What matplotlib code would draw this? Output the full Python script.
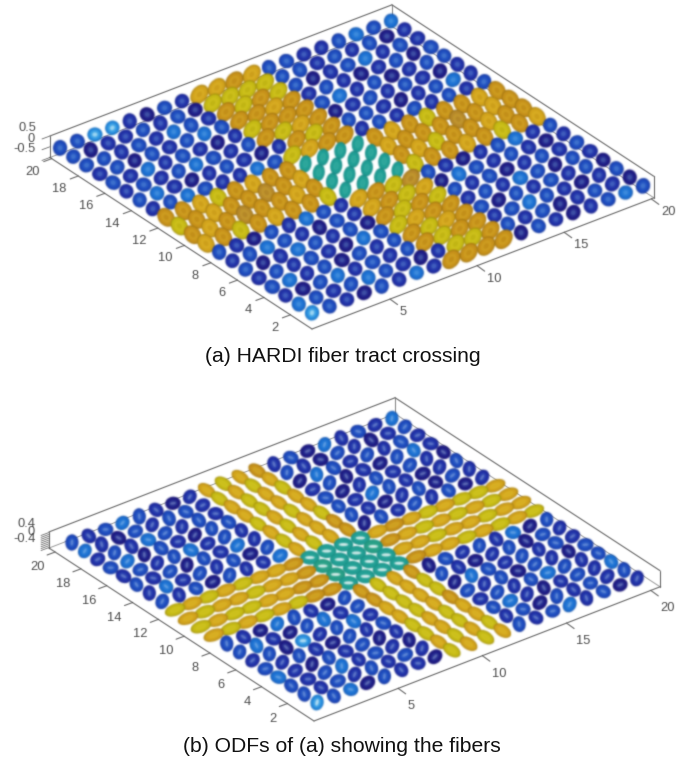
import numpy as np
import matplotlib
matplotlib.use("Agg")
import matplotlib.pyplot as plt
from matplotlib.collections import EllipseCollection
from matplotlib.colors import to_rgb

# ---- data: estimated glyph class per voxel, rows y=20..1, columns x=1..20
grid_a = [
    "cceebacbhhghccbbcdcd",
    "cabbcbcayyyyccbcbcab",
    "ccbcbdcbgygycabcdbcb",
    "bcacbcdcgghgbcbabcac",
    "cbdbcbabygggcdbcabcc",
    "bcbcdcbcgyhgabcbcbab",
    "cdbabcbabgygccbabcdb",
    "bcdcbbdcyhggbcbcbcbc",
    "GGHYGHGGttttGHGYGGHG",
    "YGHGGOGHttttHGGGOGHG",
    "GHGOGGHGttttGHYGGHGG",
    "HGYGHGGYttttYGGHGYGH",
    "cbacbdcbhgyocbabcdbc",
    "bcdcbacbhgyhadcbcbab",
    "cabdcbcagygycbcabcbc",
    "bcbcbadcyhggbcbdcacb",
    "cdbcacbcgyhgcacbcbca",
    "bacdbcbcgyggbcdcbabc",
    "dcbcdcbabyygcbcabcba",
    "ecbacbdbggggacbabcdc",
]
grid_b = [
    "cbcdcbabhyhgbcadbcbd",
    "dbacbccbyhyhcbacbabc",
    "bcbdcbcbhyhyadcbcbcb",
    "cdacbacchyhhbcabacdb",
    "bcbcdbcbyhyhcabcbcba",
    "cbcacbdbhyhycbdcbabc",
    "bdbcbcacyhhgcbabcacb",
    "cbcacbbdhyhgacbcbcab",
    "YHYHYHHGttttHGHYHYYH",
    "HYHHYHHGuttuGHYHYHYH",
    "YHYYHHGGutttHHYHHYHH",
    "HYHYHYGGttttGHHYHYHY",
    "cbadcbacgyhgacbcbdac",
    "cdbacdbcgyhycbabcacb",
    "bcaebcdbhyhyadcbcbcb",
    "cbcbacbchyhgcbcacbac",
    "dbacbcabyhyhbcbcdcbc",
    "cbcdbcbayhyhcdbabcbd",
    "cbcbcbcbhyhybcacbcbc",
    "ecdacbbayhyhcbcdbcab",
]
x_ticks = [5, 10, 15, 20]
y_ticks = [2, 4, 6, 8, 10, 12, 14, 16, 18, 20]
z_labels_a = [-0.5, 0, 0.5]
z_labels_b = [-0.4, 0, 0.4]
z_ticks_b = [-0.4, -0.3, -0.2, -0.1, 0, 0.1, 0.2, 0.3, 0.4]
caption_a = "(a) HARDI fiber tract crossing"
caption_b = "(b) ODFs of (a) showing the fibers"

# ---- styling
plt.rcParams["font.family"] = ["Liberation Sans", "DejaVu Sans"]
BASE = {"a": "#1d1a84", "b": "#1f2ea6", "c": "#1c49bd", "d": "#1a6fd2", "e": "#1a86dc",
        "g": "#c8921a", "h": "#d3a41c", "y": "#c6bb14", "o": "#b88a2a",
        "t": "#1f9f95", "u": "#259e86"}
GRAY = "#6a6a6a"


def gblur(sigma):
    r = int(3 * sigma) + 1
    k = np.exp(-0.5 * (np.arange(-r, r + 1) / sigma) ** 2)
    k /= k.sum()

    def f(buf, dpi):
        a = buf[..., 3:4]
        p = np.concatenate([buf[..., :3] * a, a], axis=2)
        p = np.pad(p, ((r, r), (r, r), (0, 0)))
        p = np.apply_along_axis(lambda m: np.convolve(m, k, mode="same"), 0, p)
        p = np.apply_along_axis(lambda m: np.convolve(m, k, mode="same"), 1, p)
        al = p[..., 3:4]
        rgb = np.where(al > 1e-4, p[..., :3] / np.maximum(al, 1e-4), 0)
        return np.clip(np.concatenate([rgb, al], axis=2), 0, 1), -r, -r
    return f


def mix(c, t, amt):
    c = np.array(to_rgb(c))
    return tuple(c + (np.array(to_rgb(t)) - c) * amt)


fig = plt.figure(figsize=(6.94, 7.64), dpi=100)
ax = fig.add_axes([0, 0, 1, 1])
ax.set_xlim(0, 694)
ax.set_ylim(764, 0)
ax.axis("off")


def panel(grid, org, xs, ys, zpx, xl, yl, zl, zglyph, ztks, zlabs, shapes, xlab_off, ylab_off, zlab_x, levels):
    def P(x, y, z):
        return (org[0] + (x - xl[0]) * xs[0] + (y - yl[0]) * ys[0],
                org[1] + (x - xl[0]) * xs[1] + (y - yl[0]) * ys[1] - (z - zl[0]) * zpx)

    blur = gblur(0.55)

    def line(p, q, c=GRAY, lw=0.8, z=1):
        l, = ax.plot([p[0], q[0]], [p[1], q[1]], color=c, lw=lw, zorder=z, solid_capstyle="round")
        l.set_agg_filter(blur)

    X0, X1, Y0, Y1, Z0, Z1 = xl[0], xl[1], yl[0], yl[1], zl[0], zl[1]
    line(P(X0, Y1, Z0), P(X1, Y1, Z0), "#9a9a9a", 0.7)
    line(P(X1, Y0, Z0), P(X1, Y1, Z0), "#9a9a9a", 0.7)
    line(P(X1, Y1, Z0), P(X1, Y1, Z1), "#8a8a8a", 0.8)
    line(P(X0, Y1, Z1), P(X1, Y1, Z1))
    line(P(X1, Y1, Z1), P(X1, Y0, Z1))
    line(P(X0, Y1, Z0), P(X0, Y1, Z1))
    line(P(X1, Y0, Z0), P(X1, Y0, Z1))
    line(P(X0, Y0, Z0), P(X1, Y0, Z0), z=5)
    line(P(X0, Y0, Z0), P(X0, Y1, Z0), z=5)

    for v in x_ticks:
        p = P(v, Y0, Z0)
        line(p, (p[0] + 7.5, p[1] + 5.5), z=5)
        t = ax.text(p[0] + xlab_off[0] + (4 if v >= 10 else 0), p[1] + xlab_off[1], str(v), ha="center", va="center",
                    fontsize=9.3, color="#4d4d4d", zorder=6)
        t.set_agg_filter(blur)
    for v in y_ticks:
        p = P(X0, v, Z0)
        line(p, (p[0] - 8, p[1] + 3), z=5)
        t = ax.text(p[0] + ylab_off[0] + (0 if v >= 10 else 3.5), p[1] + ylab_off[1], str(v), ha="center", va="center",
                    fontsize=9.3, color="#4d4d4d", zorder=6)
        t.set_agg_filter(blur)
    for v in ztks:
        p = P(X0, Y1, v)
        line(p, (p[0] - 8, p[1] + 3), lw=0.6, z=5)
    for v in zlabs:
        p = P(X0, Y1, v)
        s = "0" if v == 0 else f"{v:g}"
        t = ax.text(zlab_x - (2.5 if v < 0 else 0 if v > 0 else -4), p[1] - 8, s, ha="center", va="center",
                    fontsize=9.3, color="#4d4d4d", zorder=6)
        t.set_agg_filter(blur)

    items = []
    for r, row in enumerate(grid):
        gy = 20 - r
        for c, ch in enumerate(row):
            items.append((c + 1, gy, ch))
    items.sort(key=lambda i: P(i[0], i[1], zglyph)[1])

    off, W, H, A, FC = [], [], [], [], []
    for gx, gy, ch in items:
        low = ch.lower()
        base = BASE[low]
        if low in "abcde":
            kind = "blue"
        elif low in "tu":
            kind = "teal"
        else:
            kind = "fx" if ch.isupper() else "fy"
        a_s, b_s, ang = shapes[kind]
        if kind == "blue":
            ang = (gx * 47 + gy * 29) % 180
            a_s = a_s * (1 + 0.025 * ((gx * 3 + gy * 7) % 4))
        for sc_w, sc_h, amt, tgt in levels[kind] if low != "e" else levels["bright"]:
            off.append(P(gx, gy, zglyph))
            W.append(2 * a_s * sc_w)
            H.append(2 * b_s * sc_h)
            A.append(ang)
            FC.append(mix(base, tgt, amt))
    ec = EllipseCollection(np.array(W), np.array(H), np.array(A), units="dots",
                           offsets=np.array(off), offset_transform=ax.transData,
                           facecolors=FC, edgecolors="none", zorder=3)
    ec.set_agg_filter(gblur(0.65))
    ax.add_collection(ec)


LV_a = {
    "blue": [(1, 1, .22, "#0a0a40"), (.84, .84, 0, "k"), (.58, .58, .12, "#6fb4f0"), (.32, .32, .3, "#8fd0f5")],
    "bright": [(1, 1, .15, "#0a0a40"), (.84, .84, .15, "#6fb4f0"), (.6, .6, .45, "#6fc8f0"), (.34, .3, .75, "#c8f0fb")],
    "fx": [(1, 1, .32, "#6a4a00"), (.86, .86, 0, "k"), (.58, .58, .16, "#f0d840"), (.28, .28, .08, "#8a6a10")],
    "fy": [(1, 1, .32, "#6a4a00"), (.86, .86, 0, "k"), (.58, .58, .16, "#f0d840"), (.28, .28, .08, "#8a6a10")],
    "teal": [(1, 1, .25, "#0a5a60"), (.82, .82, 0, "k"), (.5, .5, .18, "#70d0c0")],
}
LV_b = {
    "blue": [(1, 1, .22, "#0a0a40"), (.85, .85, 0, "k"), (.58, .52, .14, "#6fb4f0"), (.38, .2, .42, "#b8dcf8")],
    "bright": [(1, 1, .15, "#0a0a40"), (.84, .84, .15, "#6fb4f0"), (.6, .55, .45, "#6fc8f0"), (.42, .24, .8, "#d8f4fb")],
    "fx": [(1, 1, .28, "#6a4a00"), (.85, .8, 0, "k"), (.55, .45, .2, "#f0e040")],
    "fy": [(1, 1, .28, "#6a4a00"), (.85, .8, 0, "k"), (.55, .45, .2, "#f0e040")],
    "teal": [(1, 1, .2, "#0a6a60"), (.8, .8, .05, "#70d0b0"), (.5, .22, .8, "#ffffff")],
}

panel(grid_a, (312, 329), (17.42, -6.68), (-13.26, -8.68), 21.5, (0.52, 20.15), (0.37, 20.13), (-0.5, 0.5),
      -0.15, z_labels_a, z_labels_a,
      {"blue": (7.4, 7.1, 0), "fy": (10.8, 7.9, 52), "fx": (10.2, 8.0, -52), "teal": (8.6, 6.0, 82)},
      (13, 13), (-19, 13), 27, LV_a)
panel(grid_b, (314, 721), (16.84, -6.53), (-12.9, -8.42), 18.75, (0.0, 20.55), (-0.07, 20.47), (-0.43, 0.43),
      -0.27, z_ticks_b, z_labels_b,
      {"blue": (7.6, 6.6, 0), "fy": (9.8, 6.0, -33), "fx": (10.8, 6.0, 21), "teal": (9.6, 7.0, 0)},
      (13, 18), (-18, 15), 27, LV_b)

ax.text(343, 357, caption_a, ha="center", va="center", fontsize=15.2, color="#111111")
ax.text(342, 746, caption_b, ha="center", va="center", fontsize=15.2, color="#111111")

fig.savefig("out.png", dpi=100, facecolor="white")
